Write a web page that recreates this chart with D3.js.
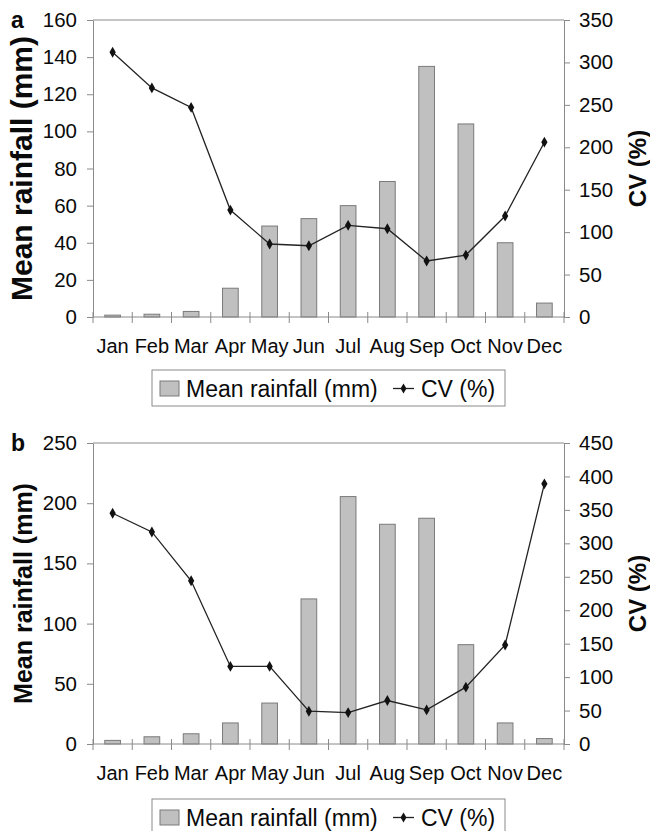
<!DOCTYPE html>
<html>
<head>
<meta charset="utf-8">
<script src="https://cdn.jsdelivr.net/npm/d3@7"></script>
<style>
  body { margin: 0; background: #fff; }
  svg { display: block; font-family: "Liberation Sans", Arial, sans-serif; }
</style>
</head>
<body>
<svg id="chart" width="650" height="831"></svg>
<script>
// months and values
const months = ["Jan", "Feb", "Mar", "Apr", "May", "Jun", "Jul", "Aug", "Sep", "Oct", "Nov", "Dec"];

const rainA = [1, 1.5, 3, 15.5, 49, 53, 60, 73, 135, 104, 40, 7.5];
const cvA = [312, 270, 247, 126, 86, 84, 108, 104, 66, 73, 119, 206];

const rainB = [3, 6, 8.5, 17.5, 34, 120.5, 205.5, 182.5, 187.5, 82.5, 17.5, 4.5];
const cvB = [345, 317, 244, 116, 116, 49, 47, 65, 51, 85, 148, 389];

const rainTicksA = [0, 20, 40, 60, 80, 100, 120, 140, 160];
const cvTicksA = [0, 50, 100, 150, 200, 250, 300, 350];
const rainTicksB = [0, 50, 100, 150, 200, 250];
const cvTicksB = [0, 50, 100, 150, 200, 250, 300, 350, 400, 450];

const svg = d3.select("#chart");
const axisGrey = "#8a8a8a";
const ink = "#0a0a0a";

const left = 93, right = 564;

const x = d3.scaleBand().domain(months).range([left, right]);
const xb = d3.scaleLinear().domain([0, 12]).range([left, right]);

// draws one panel
const panel = (o) => {
    const g = svg.append("g");
    const y = d3.scaleLinear().domain([0, o.rainTicks[o.rainTicks.length - 1]]).range([o.bottom, o.top]);
    const y2 = d3.scaleLinear().domain([0, o.cvTicks[o.cvTicks.length - 1]]).range([o.bottom, o.top]);

    // top border
    g.append("line")
        .attr("x1", left).attr("x2", right)
        .attr("y1", o.top).attr("y2", o.top)
        .attr("stroke", axisGrey);

    // bars
    const bw = x.bandwidth() * 0.4;
    g.selectAll("rect.bar")
        .data(o.rain)
        .join("rect")
        .attr("class", "bar")
        .attr("x", (d, i) => x(months[i]) + (x.bandwidth() - bw) / 2)
        .attr("width", bw)
        .attr("y", (d) => y(d))
        .attr("height", (d) => o.bottom - y(d))
        .attr("fill", "#c0c0c0")
        .attr("stroke", "#7a7a7a")
        .attr("stroke-width", 1);

    // left axis
    const la = g.append("g")
        .attr("transform", `translate(${left},0)`)
        .call(d3.axisLeft(y).tickValues(o.rainTicks).tickSize(6).tickSizeOuter(0).tickPadding(10));
    // right axis
    const ra = g.append("g")
        .attr("transform", `translate(${right},0)`)
        .call(d3.axisRight(y2).tickValues(o.cvTicks).tickSize(6).tickSizeOuter(0).tickPadding(9));
    [la, ra].forEach((a) => {
        a.select(".domain").attr("stroke", axisGrey);
        a.selectAll(".tick line").attr("stroke", axisGrey);
        a.selectAll(".tick text")
            .attr("fill", ink)
            .style("font-size", "20.5px");
    });

    // x axis line and category boundary ticks
    g.append("line")
        .attr("x1", left).attr("x2", right)
        .attr("y1", o.bottom).attr("y2", o.bottom)
        .attr("stroke", axisGrey);
    g.selectAll("line.xt")
        .data(d3.range(13))
        .join("line")
        .attr("class", "xt")
        .attr("x1", (d) => xb(d)).attr("x2", (d) => xb(d))
        .attr("y1", o.bottom - 5).attr("y2", o.bottom + 6)
        .attr("stroke", axisGrey);
    g.selectAll("text.month")
        .data(months)
        .join("text")
        .attr("class", "month")
        .attr("x", (d) => x(d) + x.bandwidth() / 2)
        .attr("y", o.bottom + 36)
        .attr("text-anchor", "middle")
        .attr("fill", ink)
        .style("font-size", "20px")
        .text((d) => d);

    // CV line
    const line = d3.line()
        .x((d, i) => x(months[i]) + x.bandwidth() / 2)
        .y((d) => y2(d));
    g.append("path")
        .datum(o.cv)
        .attr("d", line)
        .attr("fill", "none")
        .attr("stroke", "#222")
        .attr("stroke-width", 1.3);
    g.selectAll("path.mk")
        .data(o.cv)
        .join("path")
        .attr("class", "mk")
        .attr("transform", (d, i) => `translate(${x(months[i]) + x.bandwidth() / 2},${y2(d)})`)
        .attr("d", d3.symbol(d3.symbolDiamond, 34))
        .attr("fill", "#111");

    // axis titles
    const mid = (o.top + o.bottom) / 2;
    g.append("text")
        .attr("transform", `translate(${o.titleX},${mid}) rotate(-90)`)
        .attr("text-anchor", "middle")
        .style("font-size", o.titleSize + "px")
        .style("font-weight", "bold")
        .attr("fill", ink)
        .text("Mean rainfall (mm)");
    g.append("text")
        .attr("transform", `translate(646,${mid}) rotate(-90)`)
        .attr("text-anchor", "middle")
        .style("font-size", "24px")
        .style("font-weight", "bold")
        .attr("fill", ink)
        .text("CV (%)");

    // panel letter
    g.append("text")
        .attr("x", 11).attr("y", o.top + 8)
        .style("font-size", "23px")
        .style("font-weight", "bold")
        .attr("fill", ink)
        .text(o.letter);

    // legend
    const lg = g.append("g").attr("transform", `translate(152,${o.legendY})`);
    lg.append("rect")
        .attr("width", 353).attr("height", 36)
        .attr("fill", "#fff")
        .attr("stroke", axisGrey);
    lg.append("rect")
        .attr("x", 8).attr("y", 11)
        .attr("width", 19).attr("height", 15)
        .attr("fill", "#c0c0c0")
        .attr("stroke", "#7a7a7a");
    lg.append("text")
        .attr("x", 34).attr("y", 26.5)
        .style("font-size", "23px")
        .attr("fill", ink)
        .text("Mean rainfall (mm)");
    lg.append("line")
        .attr("x1", 241).attr("x2", 262)
        .attr("y1", 18.5).attr("y2", 18.5)
        .attr("stroke", "#222").attr("stroke-width", 1.3);
    lg.append("path")
        .attr("transform", "translate(251.5,18.5)")
        .attr("d", d3.symbol(d3.symbolDiamond, 30))
        .attr("fill", "#111");
    lg.append("text")
        .attr("x", 269).attr("y", 26.5)
        .style("font-size", "23px")
        .attr("fill", ink)
        .text("CV (%)");
};

panel({
    letter: "a", top: 20, bottom: 317,
    rain: rainA, cv: cvA, rainTicks: rainTicksA, cvTicks: cvTicksA,
    titleX: 32, titleSize: 30, legendY: 370
});

panel({
    letter: "b", top: 443, bottom: 744,
    rain: rainB, cv: cvB, rainTicks: rainTicksB, cvTicks: cvTicksB,
    titleX: 32, titleSize: 25, legendY: 799
});
</script>
</body>
</html>
